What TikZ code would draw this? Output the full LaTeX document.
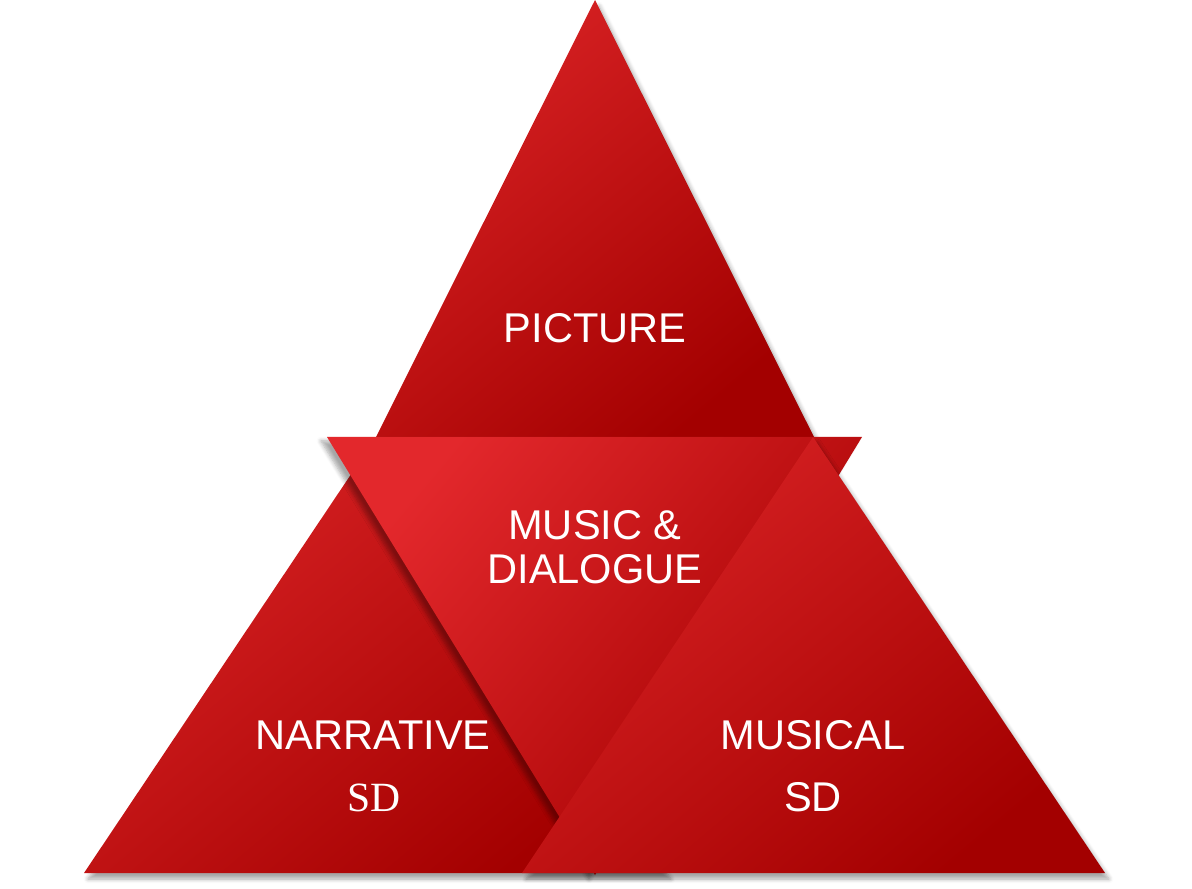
\documentclass[tikz,border=0pt]{standalone}
\usepackage{fontspec}
\setmainfont{Liberation Sans}
\newfontfamily\serifsd{Liberation Serif}
\usetikzlibrary{shadows.blur}
\definecolor{redA}{HTML}{E3282C}
\definecolor{redB}{HTML}{A30000}
\definecolor{redC}{HTML}{D82224}
\tikzset{
  tri/.style={top color=redC, bottom color=redB, shading angle=40,
    blur shadow={shadow xshift=2pt, shadow yshift=-3pt, shadow blur steps=6, shadow opacity=35}},
  invtri/.style={top color=redA, bottom color=redB, shading angle=50,
    blur shadow={shadow xshift=-3pt, shadow yshift=-2pt, shadow blur steps=6, shadow opacity=35}},
  lbl/.style={text=white, font=\fontsize{20.8}{22}\selectfont, align=center, inner sep=0pt}
}
\begin{document}
\begin{tikzpicture}[x=0.5pt,y=0.5pt]
\useasboundingbox (0,0) rectangle (1192,888);
% top triangle
\path[tri] (595,888) -- (376,451) -- (814,451) -- cycle;
% left bottom triangle
\path[tri] (376,451) -- (84,15) -- (667,15) -- cycle;
% inverted triangle
\path[invtri] (327,451) -- (862,451) -- (595,13) -- cycle;
% right bottom triangle
\path[tri] (813,451) -- (522,15) -- (1105,15) -- cycle;
% labels
\node[lbl] (pic) at (595,560) {PICTURE};
\node[lbl] (md) at (595,341) {MUSIC \&\\DIALOGUE};
\node[lbl] (nar) at (373,153) {NARRATIVE};
\node[lbl, font=\serifsd\fontsize{20.8}{22}\selectfont] (nsd) at (374,90) {SD};
\node[lbl] (mus) at (813,153) {MUSICAL};
\node[lbl] (msd) at (813,91) {SD};
\end{tikzpicture}
\end{document}
